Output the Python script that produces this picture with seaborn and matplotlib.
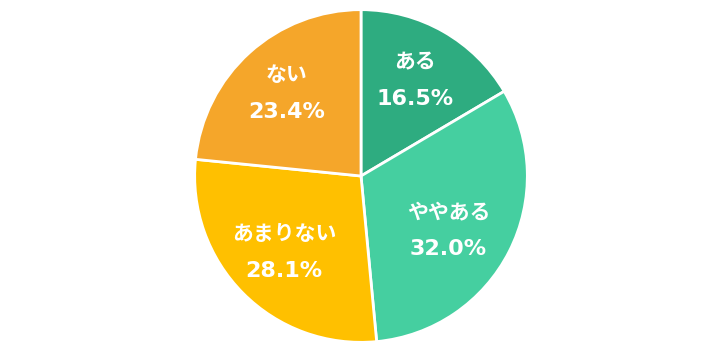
import matplotlib
matplotlib.use("Agg")
import matplotlib.pyplot as plt
import seaborn as sns
import numpy as np

categories = ["ある", "ややある", "あまりない", "ない"]
values = [16.5, 32.0, 28.1, 23.4]
pct_labels = ["16.5%", "32.0%", "28.1%", "23.4%"]
colors = ["#2EAC80", "#45CFA0", "#FFC000", "#F5A62A"]

sns.set_style("white")
plt.rcParams['font.family'] = ['DejaVu Sans', 'Noto Sans CJK JP']

W, H = 722, 352
fig = plt.figure(figsize=(W / 100, H / 100), dpi=100)
cx, cy, r = 361, 176, 168
ax = fig.add_axes([(cx - r) / W, (H - cy - r) / H, 2 * r / W, 2 * r / H])
wedges, _ = ax.pie(values, colors=colors, startangle=90, counterclock=False,
                   radius=1.0, wedgeprops=dict(edgecolor="white", linewidth=2))
ax.set_xlim(-1.01, 1.01)
ax.set_ylim(-1.01, 1.01)
ax.set_aspect("equal")
ax.axis("off")

dists = [0.66, 0.62, 0.65, 0.67]
nudge = [0, -5, 0, 0]
off = 19 / r
for w, cat, pct, d, n in zip(wedges, categories, pct_labels, dists, nudge):
    mid = np.deg2rad((w.theta1 + w.theta2) / 2 + n)
    x, y = d * np.cos(mid), d * np.sin(mid)
    ax.text(x, y + off, cat, ha="center", va="center", color="white",
            fontsize=15, fontweight="bold", family=['Noto Sans CJK JP', 'DejaVu Sans'])
    ax.text(x, y - off, pct, ha="center", va="center", color="white",
            fontsize=16, fontweight="bold")

fig.savefig("out.png", dpi=100)
